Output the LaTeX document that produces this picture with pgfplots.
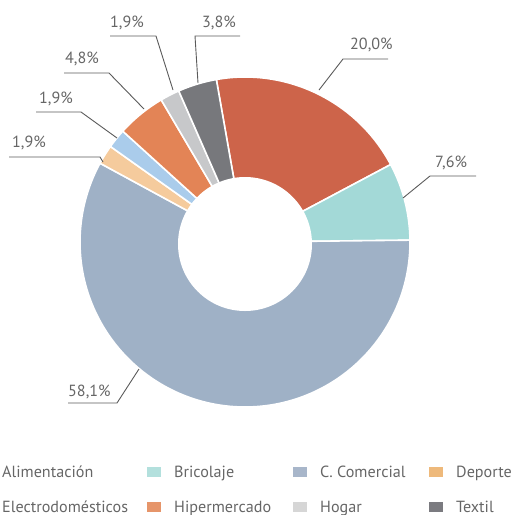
\documentclass[border=0pt]{standalone}
\usepackage{pgfplots}
\pgfplotsset{compat=1.18}
\usepackage{pgfplotstable}
\usepackage{fontspec}
\setmainfont{PT Sans}
\definecolor{cAli}{HTML}{CD644A}
\definecolor{cBri}{HTML}{A3D9D7}
\definecolor{cCom}{HTML}{9FB1C6}
\definecolor{cDep}{HTML}{F5CB9D}
\definecolor{cEle}{HTML}{AACCEB}
\definecolor{cHip}{HTML}{E38456}
\definecolor{cHog}{HTML}{C7C8CA}
\definecolor{cTex}{HTML}{77787C}
\definecolor{lBri}{HTML}{B3E0DD}
\definecolor{lCom}{HTML}{A8B6CA}
\definecolor{lDep}{HTML}{EEB97B}
\definecolor{lHip}{HTML}{E6956A}
\definecolor{lHog}{HTML}{D6D6D6}
\definecolor{lTex}{HTML}{7B7B80}
\definecolor{txt}{HTML}{666666}
\definecolor{ldr}{HTML}{5A5A5A}
\pgfplotstableread{
name value color
Alimentacion 20.0 cAli
Bricolaje 7.6 cBri
Comercial 58.1 cCom
Deporte 1.9 cDep
Electro 1.9 cEle
Hiper 4.8 cHip
Hogar 1.9 cHog
Textil 3.8 cTex
}\datatable
\begin{document}
\begin{tikzpicture}
\useasboundingbox (0,0) rectangle (512bp,515bp);
\begin{axis}[
  x=1bp, y=1bp, xmin=0, xmax=512, ymin=0, ymax=515,
  y dir=reverse, hide axis, scale only axis, clip=false,
]
\pgfplotstablegetrowsof{\datatable}
\pgfmathtruncatemacro\N{\pgfplotsretval-1}
\def\cur{100}
\pgfplotsforeachungrouped \i in {0,...,\N}{%
  \pgfplotstablegetelem{\i}{value}\of\datatable \let\v\pgfplotsretval
  \pgfplotstablegetelem{\i}{color}\of\datatable \let\c\pgfplotsretval
  \pgfmathsetmacro\nxt{\cur-3.6*\v}%
  \edef\temp{\noexpand\fill[\c, draw=white, line width=1.6bp, line join=round] (axis cs:245,242) -- ++(\cur:165bp) arc[start angle=\cur, end angle=\nxt, radius=165bp] -- cycle;}%
  \temp
  \global\let\cur\nxt
}
\fill[white] (axis cs:245,244) circle[radius=67bp];
% leader lines
\begin{scope}[ldr, line width=0.9bp]
\draw (axis cs:319,90) -- (axis cs:343,59) -- (axis cs:388,59);
\draw (axis cs:403,198) -- (axis cs:430,176) -- (axis cs:476,176);
\draw (axis cs:198,83) -- (axis cs:195,36) -- (axis cs:240,36);
\draw (axis cs:173,90) -- (axis cs:156,36) -- (axis cs:110,36);
\draw (axis cs:144,109) -- (axis cs:109,73) -- (axis cs:64,73);
\draw (axis cs:117,138) -- (axis cs:81,112) -- (axis cs:36,112);
\draw (axis cs:103,162) -- (axis cs:100,157) -- (axis cs:9,157);
\draw (axis cs:139,369) -- (axis cs:117,403) -- (axis cs:68,403);
\end{scope}
\begin{scope}[every node/.style={text=txt, inner sep=0pt, anchor=base west, font=\fontsize{16.2}{19}\selectfont}]
\node at (axis cs:350,49) {20,0\%};
\node at (axis cs:435,167) {7,6\%};
\node at (axis cs:202,27) {3,8\%};
\node at (axis cs:110,27) {1,9\%};
\node at (axis cs:65,63) {4,8\%};
\node at (axis cs:39,103) {1,9\%};
\node at (axis cs:12,147) {1,9\%};
\node at (axis cs:68,396) {58,1\%};
% legend
\node at (axis cs:2,477) {Alimentación};
\node at (axis cs:174,477) {Bricolaje};
\node at (axis cs:320,477) {C. Comercial};
\node at (axis cs:456,477) {Deporte};
\node at (axis cs:2,512) {Electrodomésticos};
\node at (axis cs:174,512) {Hipermercado};
\node at (axis cs:320,512) {Hogar};
\node at (axis cs:456,512) {Textil};
\end{scope}
\fill[lBri] (axis cs:147,467) rectangle (axis cs:161,477);
\fill[lCom] (axis cs:293,467) rectangle (axis cs:307,477);
\fill[lDep] (axis cs:429,467) rectangle (axis cs:443,477);
\fill[lHip] (axis cs:147,502) rectangle (axis cs:161,512);
\fill[lHog] (axis cs:293,502) rectangle (axis cs:307,512);
\fill[lTex] (axis cs:429,502) rectangle (axis cs:443,512);
\end{axis}
\end{tikzpicture}
\end{document}
